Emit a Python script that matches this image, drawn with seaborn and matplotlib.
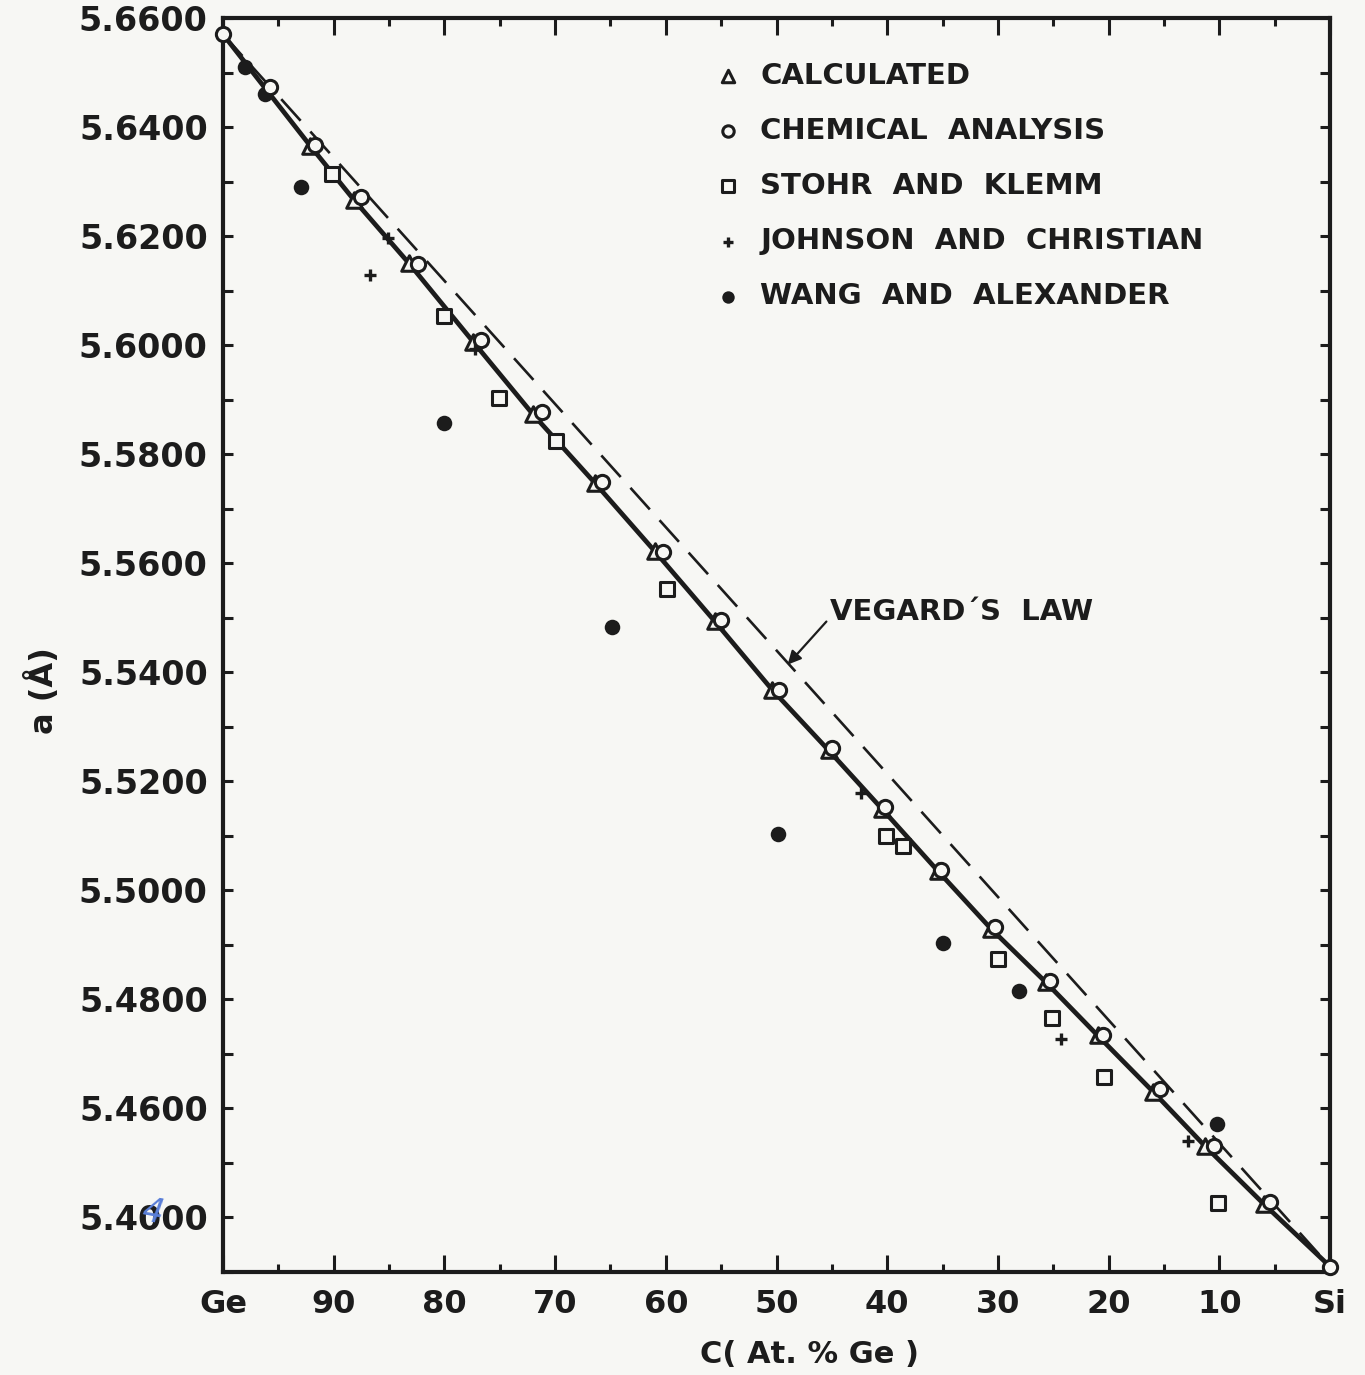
import matplotlib
matplotlib.use('Agg')
import matplotlib.pyplot as plt
from matplotlib.ticker import FixedLocator, FixedFormatter, MultipleLocator
import seaborn as sns

# Zusammensetzung in At.% Ge und Gitterkonstante a in Angstrom
ends_x = [100, 0]
ends_a = [5.6570, 5.4310]

calc_x = [92.1, 88.2, 83.2, 77.4, 72.0, 66.4, 61.0, 55.6, 50.4, 45.3, 40.5, 35.4,
          30.6, 25.7, 21.0, 16.0, 11.3, 6.0]
calc_a = [5.6365, 5.6267, 5.6150, 5.6006, 5.5873, 5.5747, 5.5622, 5.5494, 5.5368,
          5.5257, 5.5150, 5.5035, 5.4929, 5.4832, 5.4734, 5.4631, 5.4531, 5.4425]

chem_x = [100, 95.8, 91.7, 87.5, 82.4, 76.7, 71.2, 65.8, 60.3, 55.0, 49.8, 45.0,
          40.2, 35.1, 30.3, 25.3, 20.5, 15.4, 10.5, 5.4, 0]
chem_a = [5.6570, 5.6473, 5.6368, 5.6271, 5.6149, 5.6009, 5.5878, 5.5749, 5.5621,
          5.5496, 5.5368, 5.5261, 5.5152, 5.5037, 5.4933, 5.4834, 5.4735, 5.4635,
          5.4532, 5.4428, 5.4310]

stohr_x = [90.2, 80.0, 75.1, 69.9, 59.9, 40.1, 38.6, 30.0, 25.1, 20.4, 10.1]
stohr_a = [5.6313, 5.6054, 5.5903, 5.5825, 5.5552, 5.5100, 5.5081, 5.4874, 5.4766,
           5.4658, 5.4427]

johnson_x = [85.1, 86.7, 77.2, 42.4, 24.3, 12.8]
johnson_a = [5.6196, 5.6128, 5.5993, 5.5178, 5.4727, 5.4540]

wang_x = [98.0, 96.2, 93.0, 80.0, 64.9, 49.9, 35.0, 28.1, 10.2]
wang_a = [5.6510, 5.6460, 5.6290, 5.5858, 5.5483, 5.5104, 5.4903, 5.4816, 5.4571]

# durchgezogene Kurve: Ge -> berechnete Werte -> Si
curve_x = [ends_x[0]] + calc_x + [ends_x[1]]
curve_a = [ends_a[0]] + calc_a + [ends_a[1]]

x_ticks = [100, 90, 80, 70, 60, 50, 40, 30, 20, 10, 0]
x_labels = ['Ge', '90', '80', '70', '60', '50', '40', '30', '20', '10', 'Si']
y_ticks = [5.66, 5.64, 5.62, 5.60, 5.58, 5.56, 5.54, 5.52, 5.50, 5.48, 5.46, 5.44]
y_labels = ['5.6600', '5.6400', '5.6200', '5.6000', '5.5800', '5.5600', '5.5400',
            '5.5200', '5.5000', '5.4800', '5.4600', '5.4000']

ink = '#1c1c1c'
paper = '#f7f7f4'

sns.set_theme(style='ticks')
plt.rcParams['font.family'] = ['DejaVu Sans']
plt.rcParams['font.weight'] = 'bold'

fig = plt.figure(figsize=(13.65, 13.75), dpi=100, facecolor=paper)
ax = fig.add_axes([0.1634, 0.0749, 0.811, 0.9120])
ax.set_facecolor(paper)

# Linien
sns.lineplot(x=ends_x, y=ends_a, ax=ax, color=ink, lw=1.9, dashes=False,
             linestyle=(0, (11, 5.5)), sort=False, zorder=2)
sns.lineplot(x=curve_x, y=curve_a, ax=ax, color=ink, lw=3.4, sort=False, zorder=3)

# Messpunkte
sns.scatterplot(x=calc_x, y=calc_a, ax=ax, marker='^', s=125, facecolor=paper,
                edgecolor=ink, linewidth=2.2, zorder=5, label='CALCULATED', clip_on=False)
sns.scatterplot(x=chem_x, y=chem_a, ax=ax, marker='o', s=105, facecolor=paper,
                edgecolor=ink, linewidth=2.2, zorder=6, label='CHEMICAL  ANALYSIS', clip_on=False)
sns.scatterplot(x=stohr_x, y=stohr_a, ax=ax, marker='s', s=110, facecolor=paper,
                edgecolor=ink, linewidth=2.2, zorder=5, label='STOHR  AND  KLEMM')
sns.scatterplot(x=johnson_x, y=johnson_a, ax=ax, marker='+', s=70, color=ink,
                linewidth=2.4, zorder=5, label='JOHNSON  AND  CHRISTIAN')
sns.scatterplot(x=wang_x, y=wang_a, ax=ax, marker='o', s=125, color=ink,
                edgecolor=ink, linewidth=0, zorder=5, label='WANG  AND  ALEXANDER')

ax.set_xlim(100, 0)
ax.set_ylim(5.43, 5.66)

ax.xaxis.set_major_locator(FixedLocator(x_ticks))
ax.xaxis.set_major_formatter(FixedFormatter(x_labels))
ax.xaxis.set_minor_locator(MultipleLocator(5))
ax.yaxis.set_major_locator(FixedLocator(y_ticks))
ax.yaxis.set_major_formatter(FixedFormatter(y_labels))
ax.yaxis.set_minor_locator(MultipleLocator(0.01))

ax.tick_params(axis='both', which='both', direction='in', top=True, right=True,
               colors=ink, width=2.2)
ax.tick_params(axis='x', which='major', length=12, pad=12, labelsize=23)
ax.tick_params(axis='x', which='minor', length=6)
ax.tick_params(axis='y', which='both', length=7)
ax.tick_params(axis='y', which='major', pad=11, labelsize=24)
for lab in ax.get_xticklabels() + ax.get_yticklabels():
    lab.set_fontweight('bold')

for sp in ax.spines.values():
    sp.set_linewidth(3)
    sp.set_color(ink)

ax.set_xlabel('C( At. % Ge )', fontsize=22, fontweight='bold', color=ink)
ax.xaxis.set_label_coords(0.53, -0.054)
ax.set_ylabel('a (Å)', fontsize=23, fontweight='bold', color=ink)
ax.yaxis.set_label_coords(-0.147, 0.464)

leg = ax.legend(loc='upper left', bbox_to_anchor=(0.5223, 0.955),
                bbox_transform=fig.transFigure, frameon=False, fontsize=21,
                handlelength=1.0, handletextpad=0.62, labelspacing=0.93,
                borderpad=0, borderaxespad=0, markerscale=0.8)
for t in leg.get_texts():
    t.set_color(ink)
    t.set_fontweight('bold')

ax.annotate("VEGARD\u00b4S  LAW", xy=(49.0, 5.5414), xytext=(45.2, 5.551),
            fontsize=21, fontweight='bold', color=ink, ha='left', va='center',
            arrowprops=dict(arrowstyle='-|>', color=ink, lw=1.6, mutation_scale=20,
                            shrinkA=0, shrinkB=0, relpos=(0, 0.3)))

# handschriftliche Korrektur neben der untersten Beschriftung
fig.text(0.112, 0.118, '4', color='#5a7fd8', fontsize=24, fontstyle='italic',
         fontweight='normal', ha='center', va='center', rotation=-10)

fig.savefig('out.png', dpi=100, facecolor=paper)
